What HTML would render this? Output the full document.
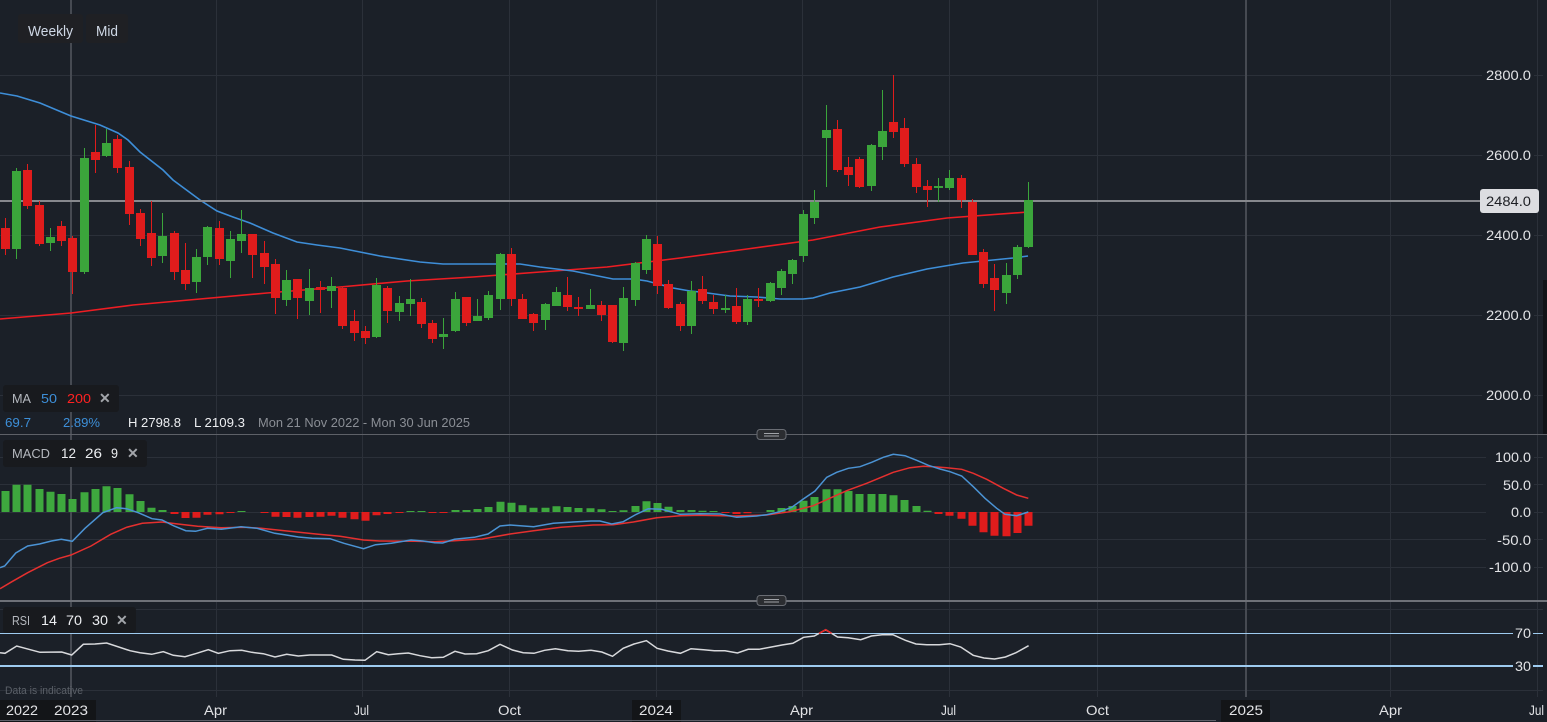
<!DOCTYPE html>
<html><head><meta charset="utf-8"><style>
html,body{margin:0;padding:0;background:#1b2028;overflow:hidden;}
svg{display:block;}
text{font-family:"Liberation Sans",Arial,sans-serif;}
</style></head><body>
<svg width="1547" height="722" viewBox="0 0 1547 722" xmlns="http://www.w3.org/2000/svg">
<rect x="0" y="0" width="1547" height="722" fill="#1b2028"/>
<path stroke="#2b3039" stroke-width="1" fill="none" d="M216.5,0V697M362.5,0V697M509.5,0V697M656.5,0V697M802.5,0V697M949.5,0V697M1097.5,0V697M1390.5,0V697M1537.5,0V697M0,75.5H1543M0,155.5H1543M0,235.5H1543M0,315.5H1543M0,395.5H1543M0,457.5H1543M0,484.5H1543M0,512.5H1543M0,539.5H1543M0,567.5H1543M0,609.5H1543M0,690.5H1543"/>
<path stroke="#464a52" stroke-width="2" fill="none" d="M71,0V697M1246,0V697"/>
<rect x="1543" y="280" width="4" height="154" fill="#111317"/>

<polyline fill="none" stroke="#ee1d23" stroke-width="1.6" points="0,319 71,313 133,305 200,299 267,293 340,287 407,281 473,277 540,272 607,267 680,258 747,249 813,240 880,227 947,218 1028,212"/>
<polyline fill="none" stroke="#3e8ed8" stroke-width="1.6" points="0,93 17,96 40,103 71,116 100,125 118,133 128,140 140,152 163,170 173,180 200,200 217,211 233,217 250,223 273,233 297,242 317,245 340,248 360,252 380,256 420,262 443,264 490,264 520,264 540,267 573,271 593,275 613,279 633,279 647,281 673,288 690,291 700,292 730,296 757,297 780,299 803,299 813,298 830,293 860,287 893,277 927,269 963,263 1013,258 1028,256"/>
<line x1="0" y1="201" x2="1480" y2="201" stroke="#86888d" stroke-width="2"/>

<path fill="#3ba53b" d="M16,168h1v91h-1zM12,171h9v78h-9zM50,228h1v23h-1zM46,237h9v6h-9zM84,148h1v126h-1zM80,158h9v114h-9zM106,129h1v28h-1zM102,143h9v13h-9zM162,213h1v50h-1zM158,236h9v20h-9zM196,249h1v44h-1zM192,257h9v25h-9zM207,226h1v39h-1zM203,227h9v30h-9zM230,231h1v47h-1zM226,239h9v22h-9zM241,210h1v43h-1zM237,234h9v7h-9zM286,270h1v36h-1zM282,280h9v20h-9zM309,269h1v46h-1zM305,288h9v13h-9zM331,277h1v31h-1zM327,286h9v5h-9zM376,278h1v60h-1zM372,285h9v52h-9zM399,296h1v25h-1zM395,303h9v9h-9zM410,279h1v37h-1zM406,299h9v5h-9zM443,318h1v31h-1zM439,334h9v3h-9zM455,292h1v40h-1zM451,299h9v32h-9zM477,299h1v22h-1zM473,316h9v5h-9zM488,291h1v29h-1zM484,295h9v23h-9zM500,253h1v57h-1zM496,254h9v45h-9zM545,303h1v27h-1zM541,304h9v16h-9zM556,287h1v19h-1zM552,292h9v14h-9zM590,289h1v20h-1zM586,305h9v4h-9zM623,287h1v64h-1zM619,298h9v45h-9zM635,262h1v44h-1zM631,263h9v37h-9zM646,235h1v39h-1zM642,239h9v31h-9zM691,281h1v53h-1zM687,291h9v35h-9zM725,295h1v18h-1zM721,308h9v2h-9zM747,295h1v30h-1zM743,299h9v23h-9zM770,282h1v20h-1zM766,283h9v18h-9zM781,269h1v26h-1zM777,271h9v17h-9zM792,259h1v25h-1zM788,260h9v14h-9zM803,210h1v52h-1zM799,214h9v42h-9zM814,190h1v34h-1zM810,202h9v16h-9zM826,105h1v82h-1zM822,130h9v8h-9zM871,144h1v47h-1zM867,145h9v41h-9zM882,90h1v70h-1zM878,131h9v16h-9zM938,178h1v24h-1zM934,186h9v2h-9zM949,170h1v20h-1zM945,178h9v10h-9zM1006,263h1v41h-1zM1002,275h9v18h-9zM1017,245h1v34h-1zM1013,247h9v28h-9zM1028,182h1v66h-1zM1024,200h9v47h-9z"/>
<path fill="#e01c1c" d="M5,218h1v37h-1zM1,228h9v21h-9zM27,164h1v45h-1zM23,170h9v36h-9zM39,201h1v45h-1zM35,205h9v39h-9zM61,221h1v25h-1zM57,226h9v15h-9zM72,236h1v58h-1zM68,238h9v34h-9zM95,125h1v48h-1zM91,152h9v8h-9zM117,135h1v38h-1zM113,139h9v29h-9zM129,161h1v64h-1zM125,167h9v47h-9zM140,209h1v37h-1zM136,213h9v26h-9zM151,201h1v65h-1zM147,233h9v25h-9zM174,231h1v49h-1zM170,233h9v39h-9zM185,243h1v47h-1zM181,270h9v14h-9zM219,221h1v44h-1zM215,228h9v31h-9zM252,234h1v44h-1zM248,234h9v21h-9zM264,241h1v43h-1zM260,253h9v14h-9zM275,259h1v55h-1zM271,264h9v34h-9zM297,279h1v40h-1zM293,279h9v19h-9zM320,281h1v32h-1zM316,287h9v3h-9zM342,286h1v43h-1zM338,288h9v38h-9zM354,310h1v31h-1zM350,321h9v12h-9zM365,326h1v18h-1zM361,331h9v7h-9zM387,286h1v37h-1zM383,288h9v23h-9zM421,298h1v30h-1zM417,302h9v22h-9zM432,320h1v23h-1zM428,323h9v16h-9zM466,297h1v29h-1zM462,297h9v26h-9zM511,248h1v58h-1zM507,254h9v45h-9zM522,294h1v25h-1zM518,299h9v20h-9zM533,313h1v18h-1zM529,314h9v9h-9zM567,277h1v34h-1zM563,295h9v12h-9zM578,297h1v19h-1zM574,307h9v2h-9zM601,301h1v20h-1zM597,305h9v10h-9zM612,305h1v38h-1zM608,305h9v37h-9zM657,236h1v58h-1zM653,244h9v42h-9zM668,280h1v29h-1zM664,284h9v24h-9zM680,302h1v29h-1zM676,304h9v22h-9zM702,276h1v28h-1zM698,289h9v12h-9zM713,295h1v19h-1zM709,302h9v7h-9zM736,288h1v36h-1zM732,306h9v16h-9zM758,288h1v19h-1zM754,299h9v2h-9zM837,120h1v52h-1zM833,129h9v41h-9zM848,157h1v29h-1zM844,167h9v8h-9zM859,157h1v31h-1zM855,159h9v28h-9zM893,75h1v63h-1zM889,122h9v10h-9zM904,118h1v49h-1zM900,128h9v36h-9zM916,158h1v35h-1zM912,164h9v23h-9zM927,180h1v27h-1zM923,186h9v4h-9zM961,175h1v33h-1zM957,178h9v22h-9zM972,199h1v56h-1zM968,202h9v53h-9zM983,249h1v39h-1zM979,252h9v32h-9zM994,264h1v47h-1zM990,278h9v12h-9z"/>

<g fill="#1b2028">
<rect x="1482" y="66" width="52" height="18"/><rect x="1482" y="146" width="52" height="18"/><rect x="1482" y="226" width="52" height="18"/><rect x="1482" y="306" width="52" height="18"/><rect x="1482" y="386" width="52" height="18"/>
</g>
<g fill="#e2e3e6" font-size="14" text-anchor="end">
<text x="1531" y="80" textLength="45" lengthAdjust="spacingAndGlyphs">2800.0</text>
<text x="1531" y="160" textLength="45" lengthAdjust="spacingAndGlyphs">2600.0</text>
<text x="1531" y="240" textLength="45" lengthAdjust="spacingAndGlyphs">2400.0</text>
<text x="1531" y="320" textLength="45" lengthAdjust="spacingAndGlyphs">2200.0</text>
<text x="1531" y="400" textLength="45" lengthAdjust="spacingAndGlyphs">2000.0</text>
</g>
<rect x="1480" y="189" width="59" height="24" rx="3" fill="#dcdde1"/>
<text x="1531" y="206" font-size="14" fill="#1d1f24" text-anchor="end" textLength="45" lengthAdjust="spacingAndGlyphs">2484.0</text>

<rect x="18" y="14" width="65" height="29" rx="3" fill="#1f2024"/>
<text x="28" y="36" font-size="15" fill="#cfd8e6" textLength="45" lengthAdjust="spacingAndGlyphs">Weekly</text>
<rect x="86" y="14" width="42" height="29" rx="3" fill="#1f2024"/>
<text x="96" y="36" font-size="15" fill="#cfd8e6" textLength="22" lengthAdjust="spacingAndGlyphs">Mid</text>

<rect x="3" y="385" width="116" height="27" rx="3" fill="#181a1e"/>
<text x="12" y="403" font-size="13" fill="#b4b8be" textLength="19" lengthAdjust="spacingAndGlyphs">MA</text>
<text x="41" y="403" font-size="13" fill="#3d8fd8" textLength="16" lengthAdjust="spacingAndGlyphs">50</text>
<text x="67" y="403" font-size="13" fill="#ff2222" textLength="24" lengthAdjust="spacingAndGlyphs">200</text>
<text x="99" y="403" font-size="14" font-weight="bold" fill="#a3a6ab">✕</text>
<text x="5" y="427" font-size="13" fill="#3d8fd8" textLength="26" lengthAdjust="spacingAndGlyphs">69.7</text>
<text x="63" y="427" font-size="13" fill="#3d8fd8" textLength="37" lengthAdjust="spacingAndGlyphs">2.89%</text>
<text x="128" y="427" font-size="13" fill="#eceef1" textLength="53" lengthAdjust="spacingAndGlyphs">H 2798.8</text>
<text x="194" y="427" font-size="13" fill="#eceef1" textLength="51" lengthAdjust="spacingAndGlyphs">L 2109.3</text>
<text x="258" y="427" font-size="13" fill="#8a8e95" textLength="212" lengthAdjust="spacingAndGlyphs">Mon 21 Nov 2022 - Mon 30 Jun 2025</text>

<line x1="0" y1="434.5" x2="1547" y2="434.5" stroke="#5e6168" stroke-width="1"/>
<rect x="757" y="429.5" width="29" height="10" rx="3" fill="#2b2d31" stroke="#6a6d74" stroke-width="1"/>
<path stroke="#a0a3a8" stroke-width="1" d="M764,433.5H779M764,436H779"/>

<rect x="3" y="440" width="144" height="27" rx="3" fill="#181a1e"/>
<text x="12" y="458" font-size="13" fill="#b4b8be" textLength="38" lengthAdjust="spacingAndGlyphs">MACD</text>
<text x="61" y="458" font-size="14" fill="#eceef1" textLength="15" lengthAdjust="spacingAndGlyphs">12</text>
<text x="85" y="458" font-size="14" fill="#eceef1" textLength="17" lengthAdjust="spacingAndGlyphs">26</text>
<text x="111" y="458" font-size="14" fill="#eceef1" textLength="7" lengthAdjust="spacingAndGlyphs">9</text>
<text x="127" y="458" font-size="14" font-weight="bold" fill="#a3a6ab">✕</text>

<path fill="#3ea83e" d="M1.5,491h8v21h-8zM12.5,484.7h8v27.3h-8zM23.5,484.7h8v27.3h-8zM35.5,489h8v23h-8zM46.5,491.7h8v20.3h-8zM57.5,494h8v18h-8zM68.5,499h8v13h-8zM80.5,492.3h8v19.7h-8zM91.5,489h8v23h-8zM102.5,486.3h8v25.7h-8zM113.5,488h8v24h-8zM125.5,494.3h8v17.7h-8zM136.5,501h8v11h-8zM147.5,507.7h8v4.3h-8zM158.5,510h8v2h-8zM237.5,511h8v1h-8zM406.5,511h8v1h-8zM417.5,511h8v1h-8zM451.5,510h8v2h-8zM462.5,510h8v2h-8zM473.5,509h8v3h-8zM484.5,507h8v5h-8zM496.5,501.7h8v10.3h-8zM507.5,502.7h8v9.3h-8zM518.5,505.3h8v6.7h-8zM529.5,507.7h8v4.3h-8zM541.5,507.7h8v4.3h-8zM552.5,506.3h8v5.7h-8zM563.5,507h8v5h-8zM574.5,508h8v4h-8zM586.5,508.3h8v3.7h-8zM597.5,509.3h8v2.7h-8zM608.5,511h8v1h-8zM619.5,510.3h8v1.7h-8zM631.5,506h8v6h-8zM642.5,501.3h8v10.7h-8zM653.5,503h8v9h-8zM664.5,506.7h8v5.3h-8zM676.5,510h8v2h-8zM687.5,510h8v2h-8zM698.5,510.7h8v1.3h-8zM709.5,511h8v1h-8zM766.5,510h8v2h-8zM777.5,508h8v4h-8zM788.5,506h8v6h-8zM799.5,500.7h8v11.3h-8zM810.5,497h8v15h-8zM822.5,489.3h8v22.7h-8zM833.5,489.3h8v22.7h-8zM844.5,491h8v21h-8zM855.5,494h8v18h-8zM867.5,494h8v18h-8zM878.5,494h8v18h-8zM889.5,495.3h8v16.7h-8zM900.5,500h8v12h-8zM912.5,506h8v6h-8zM923.5,510.7h8v1.3h-8z"/>
<path fill="#e01c1c" d="M170.5,512h8v2h-8zM181.5,512h8v6h-8zM192.5,512h8v5.7h-8zM203.5,512h8v2.7h-8zM215.5,512h8v2.3h-8zM226.5,512h8v1h-8zM260.5,512h8v1h-8zM271.5,512h8v4.7h-8zM282.5,512h8v5h-8zM293.5,512h8v5.7h-8zM305.5,512h8v5h-8zM316.5,512h8v4.7h-8zM327.5,512h8v3.7h-8zM338.5,512h8v5.7h-8zM350.5,512h8v7.3h-8zM361.5,512h8v8.7h-8zM372.5,512h8v3.3h-8zM383.5,512h8v2h-8zM395.5,512h8v1h-8zM428.5,512h8v1h-8zM439.5,512h8v1h-8zM721.5,512h8v1h-8zM732.5,512h8v2h-8zM743.5,512h8v1.3h-8zM934.5,512h8v2h-8zM945.5,512h8v3.7h-8zM957.5,512h8v6.7h-8zM968.5,512h8v13.7h-8zM979.5,512h8v20.3h-8zM990.5,512h8v23.7h-8zM1002.5,512h8v24.3h-8zM1013.5,512h8v21h-8zM1024.5,512h8v13.7h-8z"/>
<polyline fill="none" stroke="#e5302f" stroke-width="1.5" points="0,588.7 11.9,581.7 27.7,572.7 47.4,562.7 59.3,558.3 71,555 91,546 110.7,534.3 126.5,527.3 142.3,523.3 162,522 177.9,524 197.6,526.3 221.3,527.7 245,527.3 261,528.3 284.6,530.7 316,534 340,536.3 363.6,540 379.4,541 415,541.3 434.8,541.7 454.5,540.7 482,539 510,534 533.6,530.7 561,527.3 593,525 613.3,524.7 633.3,522 656.7,517.7 680,515.7 700,515.3 733.3,516 766.7,515 790,511.7 813.3,505.7 833.3,496.7 846.7,490.7 866.7,483.3 893.3,472.3 910,467.7 923.3,466.3 933.3,466.7 946.7,467.7 961.7,469.3 973.3,473.3 986.7,479.3 1003.3,488.3 1016.7,495 1028.3,498.3"/>
<polyline fill="none" stroke="#4b93d4" stroke-width="1.5" points="0,567.7 4.7,566 15.8,553 27.7,546 39.5,544 51.4,541 61.3,539.3 72.3,541.3 85,528.3 102.8,512.7 116.6,507.7 126.5,508.7 138.3,512.7 152,518.7 162,520 174,526 185.8,530.7 195.6,531.3 207.5,528.3 221.3,529.3 241,526.7 257,528.3 274.7,533.3 284.6,534.7 298.4,537 312,538.3 330,538.7 344,543.3 363.6,548.7 375.5,544.7 391.3,543.3 411,540 423,541 434.8,542.7 442.7,543 454.5,539.3 474.3,537.3 488,534 500,526 510,525 533.6,526.7 553.4,523.3 573,522 591,521 600,521 611.7,524 623.3,521.7 635,515 648.3,508.7 661.7,509.3 680,514.3 700,513.7 720,514 736.7,517.3 756.7,516 766.7,514.7 780,511.7 791.7,507.3 803.3,499 815,491 826.7,477.3 836.7,472.3 848.3,468.3 860,466.7 871.7,462.3 883.3,457.3 893.3,454.3 905,455.7 916.7,460.3 928.3,465.3 940,469 950,471.7 961.7,476 973.3,486.7 985,498.3 996.7,508.3 1005,514.3 1016.7,515.7 1028.3,512"/>

<g fill="#1b2028">
<rect x="1486" y="448" width="48" height="18"/><rect x="1486" y="476" width="48" height="18"/><rect x="1486" y="503" width="48" height="18"/><rect x="1486" y="531" width="48" height="18"/><rect x="1486" y="558" width="48" height="18"/>
</g>
<g fill="#e2e3e6" font-size="14" text-anchor="end">
<text x="1531" y="462" textLength="36" lengthAdjust="spacingAndGlyphs">100.0</text>
<text x="1531" y="490" textLength="28" lengthAdjust="spacingAndGlyphs">50.0</text>
<text x="1531" y="517" textLength="20" lengthAdjust="spacingAndGlyphs">0.0</text>
<text x="1531" y="545" textLength="34" lengthAdjust="spacingAndGlyphs">-50.0</text>
<text x="1531" y="572" textLength="42" lengthAdjust="spacingAndGlyphs">-100.0</text>
</g>

<line x1="0" y1="601" x2="1547" y2="601" stroke="#6e7178" stroke-width="2"/>
<rect x="757" y="595.5" width="29" height="10" rx="3" fill="#2b2d31" stroke="#6a6d74" stroke-width="1"/>
<path stroke="#a0a3a8" stroke-width="1" d="M764,599.5H779M764,602H779"/>

<line x1="0" y1="633.5" x2="1543" y2="633.5" stroke="#9ecbf0" stroke-width="1"/>
<line x1="0" y1="666" x2="1543" y2="666" stroke="#9ecbf0" stroke-width="2"/>
<polyline fill="none" stroke="#d8d9dc" stroke-width="1.5" points="0,652.7 5,653.3 16.7,646 40,652.3 61.7,652 71.7,655 83.3,644.3 95,644 106.7,643 130,650.7 140,652.7 151.7,654.3 163.3,651.7 173.3,655.3 185,656.7 196.7,653.3 208.3,649.7 218.3,653.3 230,650.7 241.7,650.3 251.7,652.3 263.3,653.7 275,657 286.7,654.3 298.3,656 310,655 331.7,655 343.3,659.3 355,660 365,660.3 376.7,651.7 388.3,654.7 398.3,653.7 408.3,653 420,655.7 431.7,657.7 443.3,657.3 455,651.3 465,654 476.7,653.7 488.3,650.7 500,644.3 512.5,650 523.2,652.7 534,653.3 544.6,650.3 555.4,648.7 567.9,650.7 578.6,651.3 591,650.3 601.8,652 612.5,656.3 623.2,648.3 634,644 646.4,640.7 657.1,648.3 667.9,651 680.4,653.3 691,648.7 703.6,649.7 714.3,650.7 725,650.7 737.5,653 748.2,649.3 759,649.3 771.4,647 782,645 792.9,643.3 803.6,637.3 814.3,636 825.7,629.7 837.5,637 848.2,637.7 860.7,639.7 871.4,636 882.1,634.7 892.9,634.7 905.4,640.3 916,644 926.8,644.7 939.3,644.7 950,643.7 960.7,647 973.2,655.3 984,658 994.6,659 1005.4,657 1016,652.7 1028.6,645.7"/>
<polyline fill="none" stroke="#e8201f" stroke-width="1.5" points="819.2,633.3 825.7,629.7 831.5,633.3"/>
<rect x="3" y="607" width="133" height="26" rx="3" fill="#181a1e"/>
<text x="12" y="625" font-size="13" fill="#b4b8be" textLength="18" lengthAdjust="spacingAndGlyphs">RSI</text>
<text x="41" y="625" font-size="14" fill="#eceef1" textLength="16" lengthAdjust="spacingAndGlyphs">14</text>
<text x="66" y="625" font-size="14" fill="#eceef1" textLength="16" lengthAdjust="spacingAndGlyphs">70</text>
<text x="92" y="625" font-size="14" fill="#eceef1" textLength="16" lengthAdjust="spacingAndGlyphs">30</text>
<text x="116" y="625" font-size="14" font-weight="bold" fill="#a3a6ab">✕</text>
<rect x="1513" y="625" width="20" height="16" fill="#1b2028"/>
<rect x="1513" y="658" width="20" height="16" fill="#1b2028"/>
<g fill="#e2e3e6" font-size="14" text-anchor="end">
<text x="1531" y="638" textLength="16" lengthAdjust="spacingAndGlyphs">70</text>
<text x="1531" y="671" textLength="16" lengthAdjust="spacingAndGlyphs">30</text>
</g>
<text x="5" y="694" font-size="11" fill="#5b6068" textLength="78" lengthAdjust="spacingAndGlyphs">Data is indicative</text>

<rect x="0" y="700" width="96" height="22" fill="#131518"/>
<rect x="632" y="700" width="49" height="22" fill="#131518"/>
<rect x="1221" y="700" width="49" height="22" fill="#131518"/>
<g fill="#e2e3e6" font-size="14">
<text x="6" y="715" textLength="32" lengthAdjust="spacingAndGlyphs">2022</text>
<text x="54" y="715" textLength="34" lengthAdjust="spacingAndGlyphs">2023</text>
<text x="204" y="715" textLength="23" lengthAdjust="spacingAndGlyphs">Apr</text>
<text x="354" y="715" textLength="15" lengthAdjust="spacingAndGlyphs">Jul</text>
<text x="498" y="715" textLength="23" lengthAdjust="spacingAndGlyphs">Oct</text>
<text x="639" y="715" textLength="34" lengthAdjust="spacingAndGlyphs">2024</text>
<text x="790" y="715" textLength="23" lengthAdjust="spacingAndGlyphs">Apr</text>
<text x="941" y="715" textLength="15" lengthAdjust="spacingAndGlyphs">Jul</text>
<text x="1086" y="715" textLength="23" lengthAdjust="spacingAndGlyphs">Oct</text>
<text x="1229" y="715" textLength="34" lengthAdjust="spacingAndGlyphs">2025</text>
<text x="1379" y="715" textLength="23" lengthAdjust="spacingAndGlyphs">Apr</text>
<text x="1529" y="715" textLength="15" lengthAdjust="spacingAndGlyphs">Jul</text>
</g>
<line x1="0" y1="720.5" x2="1216" y2="720.5" stroke="#5d6068" stroke-width="1"/>
</svg>
</body></html>
